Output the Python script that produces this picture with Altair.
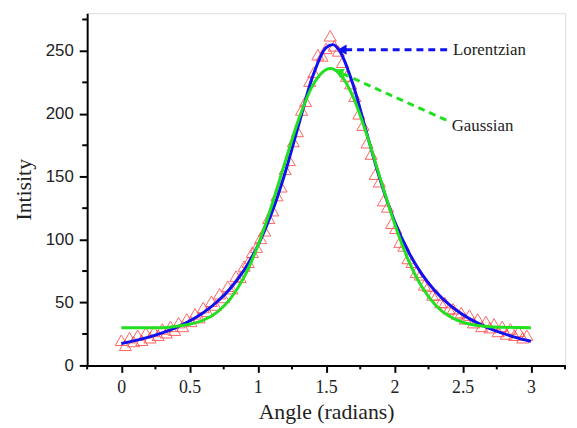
import altair as alt
import pandas as pd

# measured points (red triangles)
angle = [0.00, 0.03, 0.06, 0.09, 0.12, 0.15, 0.18, 0.21, 0.24, 0.27,
         0.30, 0.33, 0.36, 0.39, 0.42, 0.45, 0.48, 0.51, 0.54, 0.57,
         0.60, 0.63, 0.66, 0.69, 0.72, 0.75, 0.78, 0.81, 0.84, 0.87,
         0.90, 0.93, 0.96, 0.99, 1.02, 1.05, 1.08, 1.11, 1.14, 1.17,
         1.20, 1.23, 1.26, 1.29, 1.32, 1.35, 1.38, 1.41, 1.44, 1.47,
         1.50, 1.53, 1.56, 1.59, 1.62, 1.65, 1.68, 1.71, 1.74, 1.77,
         1.80, 1.83, 1.86, 1.89, 1.92, 1.95, 1.98, 2.01, 2.04, 2.07,
         2.10, 2.13, 2.16, 2.19, 2.22, 2.25, 2.28, 2.31, 2.34, 2.37,
         2.40, 2.43, 2.46, 2.49, 2.52, 2.55, 2.58, 2.61, 2.64, 2.67,
         2.70, 2.73, 2.76, 2.79, 2.82, 2.85, 2.88, 2.91, 2.94, 2.97]
intensity = [20, 16, 22, 19, 24, 20, 26, 22, 27, 24,
             29, 26, 31, 28, 34, 31, 37, 35, 41, 38,
             46, 43, 51, 48, 57, 54, 63, 61, 71, 70,
             79, 82, 90, 94, 101, 107, 117, 123, 135, 142,
             156, 163, 178, 186, 203, 210, 226, 233, 247, 246,
             252, 262, 254, 250, 241, 230, 224, 214, 200, 191,
             177, 168, 152, 146, 131, 126, 113, 109, 98, 95,
             85, 82, 74, 72, 64, 63, 56, 56, 50, 50,
             45, 45, 41, 42, 37, 40, 34, 37, 31, 35,
             30, 33, 27, 31, 25, 29, 24, 27, 22, 24]

# Lorentzian fit curve (blue)
lor_x = [0.0, 0.1, 0.2, 0.3, 0.4, 0.5, 0.6, 0.7, 0.8, 0.9, 1.0, 1.1, 1.2, 1.3, 1.4, 1.5,
         1.55, 1.6, 1.7, 1.8, 1.9, 2.0, 2.1, 2.2, 2.3, 2.4, 2.5, 2.6, 2.7, 2.8, 2.9, 3.0]
lor_y = [17.4, 19.7, 22.5, 25.9, 30.1, 35.3, 41.9, 50.4, 61.4, 75.9, 95.2, 120.7, 153.2, 191.6, 229.2, 252.7,
         255.0, 249.8, 222.3, 183.6, 146.1, 115.0, 91.0, 72.8, 59.0, 48.6, 40.5, 34.2, 29.2, 25.2, 21.9, 19.2]

# Gaussian fit curve (green)
gau_x = [0.0, 0.1, 0.2, 0.3, 0.4, 0.5, 0.6, 0.7, 0.8, 0.9, 1.0, 1.1, 1.2, 1.3, 1.4, 1.5,
         1.53, 1.6, 1.7, 1.8, 1.9, 2.0, 2.1, 2.2, 2.3, 2.4, 2.5, 2.6, 2.7, 2.8, 2.9, 3.0]
gau_y = [30.0, 30.0, 30.0, 30.0, 31.1, 32.7, 35.9, 42.2, 53.1, 70.4, 95.1, 126.5, 161.8, 195.8, 222.2, 235.2,
         236.0, 231.9, 212.9, 182.7, 147.5, 113.2, 84.3, 62.7, 48.1, 39.2, 34.3, 31.9, 30.7, 30.3, 30.1, 30.0]

# annotations
labels = ["Lorentzian", "Gaussian"]
label_x = [2.43, 2.42]
label_y = [251, 190]
arrow_from_x = [2.41, 2.40]
arrow_from_y = [251, 194]
arrow_to_x = [1.64, 1.62]
arrow_to_y = [251, 232]
head_x = [1.617, 1.591]
head_y = [251, 233.6]
head_angle = [270, 295.5]
colors = ["#1010f0", "#20e020"]

x_major = [0, 0.5, 1, 1.5, 2, 2.5, 3]
x_minor = [-0.25, 0.25, 0.75, 1.25, 1.75, 2.25, 2.75, 3.25]
y_major = [0, 50, 100, 150, 200, 250]
y_minor = [25, 75, 125, 175, 225, 275]

pts = pd.DataFrame({"x": angle, "y": intensity})
lor = pd.DataFrame({"x": lor_x, "y": lor_y})
gau = pd.DataFrame({"x": gau_x, "y": gau_y})
ann = pd.DataFrame({"label": labels, "lx": label_x, "ly": label_y, "c": colors,
                    "hx": head_x, "hy": head_y, "ang": head_angle})
seg_rows = []
for i, lab in enumerate(labels):
    seg_rows.append({"label": lab, "x": arrow_to_x[i], "y": arrow_to_y[i], "o": 0})
    seg_rows.append({"label": lab, "x": arrow_from_x[i], "y": arrow_from_y[i], "o": 1})
seg = pd.DataFrame(seg_rows)
xmin_df = pd.DataFrame({"x": x_minor})
ymin_df = pd.DataFrame({"y": y_minor})

W, H = 483, 356
xscale = alt.Scale(domain=[-0.25, 3.25], nice=False, zero=False)
yscale = alt.Scale(domain=[0, 280], nice=False)

xaxis = alt.Axis(
    title="Angle (radians)", values=x_major, format="~g", grid=False, tickSize=7,
    labelFont="Liberation Serif", labelFontSize=18, labelColor="#222222", labelPadding=6,
    labelOverlap=False, labelFlush=False,
    titleFont="Liberation Serif", titleFontSize=22, titleFontWeight="normal", titleColor="#222222",
    titlePadding=6, domainColor="black", domainWidth=2, tickColor="black", tickWidth=2,
)
yaxis = alt.Axis(
    title="Intisity", values=y_major, format="d", grid=False, tickSize=8,
    labelFont="Liberation Sans", labelFontSize=17, labelColor="#222222", labelPadding=6,
    labelOverlap=False, labelFlush=False,
    titleFont="Liberation Serif", titleFontSize=22, titleFontWeight="normal", titleColor="#222222",
    titlePadding=10, domainColor="black", domainWidth=2, tickColor="black", tickWidth=2,
)

points = alt.Chart(pts).mark_point(shape="triangle-up", size=150, filled=False,
                                   color="#ff4a4a", strokeWidth=1, opacity=0.85).encode(
    x=alt.X("x:Q", scale=xscale, axis=xaxis),
    y=alt.Y("y:Q", scale=yscale, axis=yaxis),
)
xminor = alt.Chart(xmin_df).mark_rule(color="black", strokeWidth=2).encode(
    x=alt.X("x:Q", scale=xscale), y=alt.value(H), y2=alt.value(H + 4))
yminor = alt.Chart(ymin_df).mark_rule(color="black", strokeWidth=2).encode(
    y=alt.Y("y:Q", scale=yscale), x=alt.value(0), x2=alt.value(-5))

blue = alt.Chart(lor).mark_line(color="#1010f0", strokeWidth=3, interpolate="monotone").encode(
    x=alt.X("x:Q", scale=xscale), y=alt.Y("y:Q", scale=yscale))
green = alt.Chart(gau).mark_line(color="#20e020", strokeWidth=3, interpolate="monotone").encode(
    x=alt.X("x:Q", scale=xscale), y=alt.Y("y:Q", scale=yscale))

dashes = alt.Chart(seg).mark_line(strokeWidth=3, strokeDash=[7, 5]).encode(
    x=alt.X("x:Q", scale=xscale), y=alt.Y("y:Q", scale=yscale),
    detail="label:N", order="o:Q",
    color=alt.Color("label:N", scale=alt.Scale(domain=labels, range=colors), legend=None),
)
heads = alt.Chart(ann).mark_point(shape="triangle-up", size=110, filled=True, opacity=1).encode(
    x=alt.X("hx:Q", scale=xscale), y=alt.Y("hy:Q", scale=yscale),
    angle=alt.Angle("ang:Q", scale=None),
    color=alt.Color("label:N", scale=alt.Scale(domain=labels, range=colors), legend=None),
)
texts = alt.Chart(ann).mark_text(align="left", baseline="middle", font="Liberation Serif",
                                 fontSize=17, color="#222222").encode(
    x=alt.X("lx:Q", scale=xscale), y=alt.Y("ly:Q", scale=yscale), text="label:N")

chart = alt.layer(points, xminor, yminor, blue, green, dashes, heads, texts).properties(
    width=W, height=H,
    autosize="none",
    padding={"left": 80, "top": 3, "right": 4, "bottom": 60},
).configure_view(stroke=None).configure(background="white")

chart.save("out.html", embed_options={"renderer": "svg", "actions": False})
